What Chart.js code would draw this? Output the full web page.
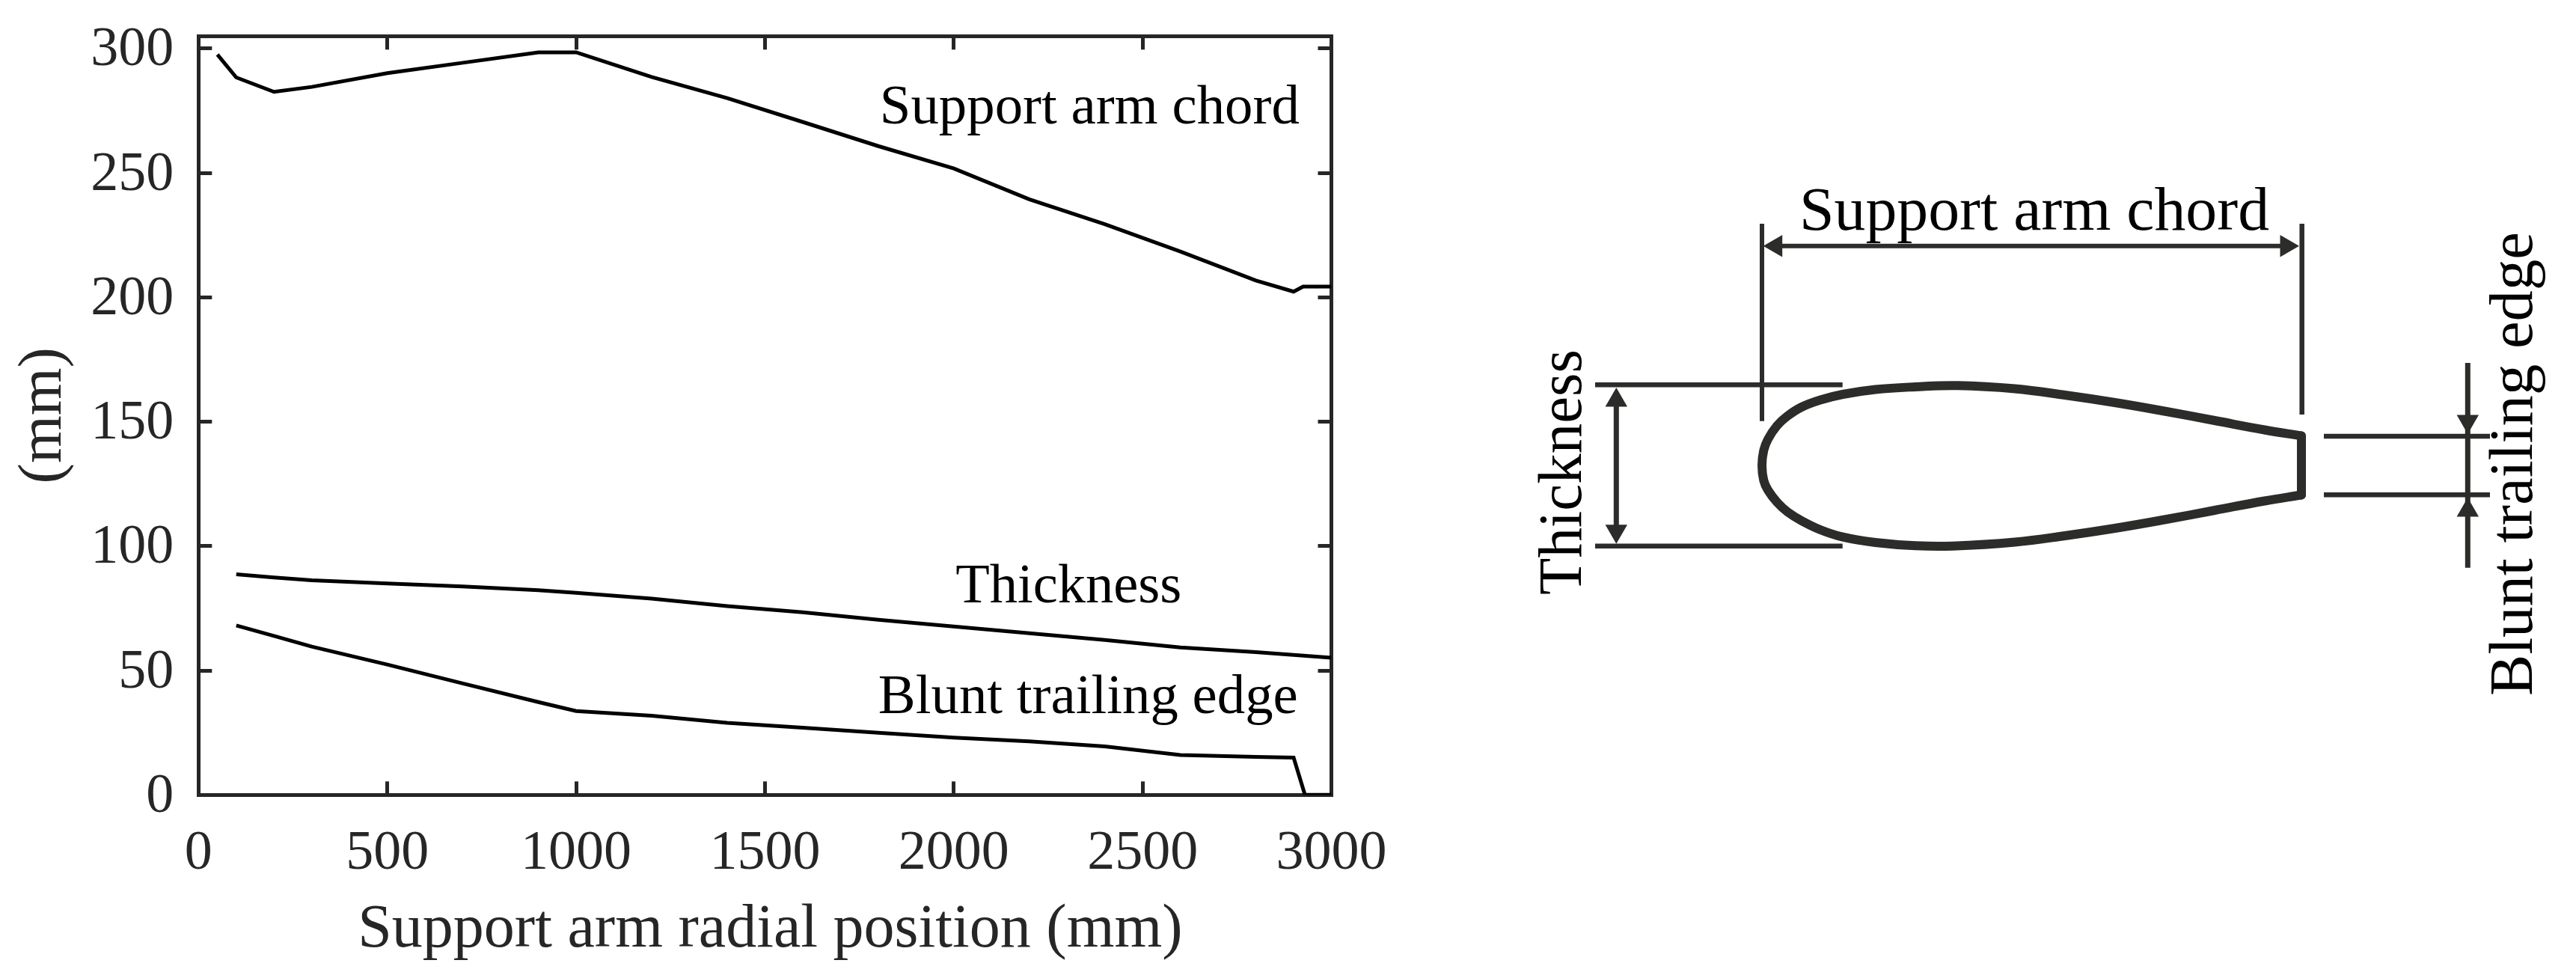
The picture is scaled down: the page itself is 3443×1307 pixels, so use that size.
<!DOCTYPE html>
<html>
<head>
<meta charset="utf-8">
<title>Support arm geometry</title>
<script src="https://cdn.jsdelivr.net/npm/chart.js@4/dist/chart.umd.js"></script>
<style>
html,body{margin:0;padding:0;background:#fff;overflow:hidden}
#wrap{position:relative;width:3443px;height:1307px;background:#fff}
canvas{position:absolute;top:0;display:block}
#left{left:0}
#right{left:1900px}
</style>
</head>
<body>
<div id="wrap">
<canvas id="left" width="1900" height="1307"></canvas>
<canvas id="right" width="1543" height="1307"></canvas>
</div>
<script>
// ---- left plot data (mm) ----
const xTicksStep = 500;
const yTicksStep = 50;
const xLabel = 'Support arm radial position (mm)';
const yLabel = '(mm)';

const chordX = [50,100,200,300,500,700,900,1000,1200,1400,1600,1800,2000,2200,2400,2600,2800,2900,2925,3000];
const chordY = [297.6,288.4,282.6,284.6,290.1,294.3,298.5,298.5,288.6,280.1,270.5,260.8,251.8,239.4,229.4,218.4,206.8,202.3,204.3,204.3];

const thickX = [100,200,300,500,700,900,1000,1200,1400,1600,1800,2000,2200,2400,2600,2800,3000];
const thickY = [88.7,87.4,86.3,85,83.8,82.3,81.2,78.9,75.9,73.4,70.4,67.7,65,62.3,59.3,57.4,55.1];

const bluntX = [100,200,300,500,700,900,1000,1200,1400,1600,1800,2000,2200,2400,2600,2800,2900,2930,3000];
const bluntY = [68.1,63.9,59.6,52.4,44.8,37.3,33.7,31.8,29,27,25,23,21.5,19.5,16,15.3,15,0,0];

const plotNotes = ['Support arm chord','Thickness','Blunt trailing edge'];
const plotNoteX = [1804,2005,1800];
const plotNoteY = [270,77.4,32.9];
const plotNoteW = [561,302,561];

// ---- right diagram data (units from the leading edge, chord = 721) ----
const foilX = [721,671.7,605,538,471.7,405,338,261.7,205,151.7,108,78,53,34,20,8,2.3,0,2.3,8,20,34,53,78,108,151.7,205,255,338,405,471.7,538,605,671.7,721];
const foilY = [39.5,47.5,60,72.5,84,94,102.5,106.7,105,101.5,95,87.5,78,66,53,35,20,0,-20,-33,-49,-62,-74,-86,-95.7,-103,-107.3,-107.7,-102.5,-94,-84,-72.5,-60,-47.5,-39.5];
const foilEndX = [721,721];
const foilEndY = [39.5,-39.5];

const chordExtLeftX = [0,0];       const chordExtLeftY = [323,59.3];
const chordExtRightX = [721.7,721.7]; const chordExtRightY = [323,68];
const chordDimX = [20,700];        const chordDimY = [293.3,293.3];
const thickTopX = [-223,107.7];    const thickTopY = [107.7,107.7];
const thickBotX = [-223,107.7];    const thickBotY = [-107.7,-107.7];
const thickDimX = [-194.7,-194.7]; const thickDimY = [90,-90];
const edgeTopX = [751,973];        const edgeTopY = [39,39];
const edgeBotX = [751,973];        const edgeBotY = [-39.3,-39.3];
const edgeDimX = [943.3,943.3];    const edgeDimY = [137,-136.7];

const headX = [18.7,701,-194.7,-194.7,943.3,943.3];
const headY = [293.3,293.3,87,-87.7,59,-60];
const headAngle = [270,90,0,180,180,0];

const diagramNotes = ['Support arm chord','Thickness','Blunt trailing edge'];
const diagramNoteX = [50,-242,1029];
const diagramNoteY = [314.7,-173,-308];
const diagramNoteAngle = [0,-90,-90];
const diagramNoteW = [628,328,620];

const INK = '#262626';
const FOIL = '#2c2c2a';

function pts(xs,ys){ return xs.map((x,i)=>({x:x,y:ys[i]})); }

function notesPlugin(texts,xs,ys,widths,angles,font,color){
  return {
    id:'notes',
    afterDatasetsDraw(chart){
      const c = chart.ctx;
      const sx = chart.scales.x, sy = chart.scales.y;
      texts.forEach((t,i)=>{
        c.save();
        c.font = font;
        c.fillStyle = color;
        c.textAlign = 'left';
        c.textBaseline = 'alphabetic';
        c.translate(sx.getPixelForValue(xs[i]), sy.getPixelForValue(ys[i]));
        if(angles) c.rotate(angles[i]*Math.PI/180);
        c.scale(widths[i]/c.measureText(t).width,1);
        c.fillText(t,0,0);
        c.restore();
      });
    }
  };
}

// ---- left plot ----
const AXIS_FONT = 'Liberation Serif';
const gridStyle = {drawOnChartArea:false, drawTicks:true, tickLength:-18, tickWidth:5, tickColor:INK};
const borderStyle = {display:true, width:5, color:INK};
function fixBox(s,w,h){
  if(w!==null) s.width=w;
  if(h!==null) s.height=h;
  s.paddingLeft=0;s.paddingRight=0;s.paddingTop=0;s.paddingBottom=0;
}
// nudges one drawing step of an axis by a few pixels
function nudge(s,method,dx,dy){
  if(s['_n_'+method]) return;
  s['_n_'+method]=true;
  const orig=s[method];
  s[method]=function(...a){
    const c=this.ctx;c.save();c.translate(dx,dy);orig.apply(this,a);c.restore();
  };
}
function lineSet(label,xs,ys){
  return {label:label,data:pts(xs,ys),showLine:true,borderColor:'#000',backgroundColor:'#000',
          borderWidth:5,pointRadius:0,tension:0,borderJoinStyle:'miter',borderCapStyle:'butt'};
}
new Chart(document.getElementById('left'),{
  type:'scatter',
  data:{datasets:[
    lineSet('Support arm chord',chordX,chordY),
    lineSet('Thickness',thickX,thickY),
    lineSet('Blunt trailing edge',bluntX,bluntY)
  ]},
  options:{
    responsive:false,animation:false,devicePixelRatio:1,
    layout:{padding:0,autoPadding:false},
    plugins:{legend:{display:false},tooltip:{enabled:false},title:{display:false}},
    scales:{
      x:{type:'linear',position:'bottom',min:0,max:3000,
        afterFit(s){fixBox(s,null,244.7);nudge(s,'drawTitle',7,0);},
        grid:gridStyle,border:borderStyle,
        ticks:{stepSize:xTicksStep,includeBounds:false,autoSkip:false,maxRotation:0,minRotation:0,
               padding:53,color:INK,font:{family:AXIS_FONT,size:74},callback:v=>String(v)},
        title:{display:true,text:xLabel,color:INK,font:{family:AXIS_FONT,size:82},padding:{top:0,bottom:14}}
      },
      y:{type:'linear',position:'left',min:0,max:305,
        afterFit(s){fixBox(s,265.3,null);nudge(s,'drawLabels',0,3);},
        grid:gridStyle,border:borderStyle,
        ticks:{stepSize:yTicksStep,includeBounds:false,autoSkip:false,maxRotation:0,minRotation:0,
               padding:51,color:INK,font:{family:AXIS_FONT,size:74},callback:v=>String(v)},
        title:{display:true,text:yLabel,color:INK,font:{family:AXIS_FONT,size:82},padding:{top:10,bottom:0}}
      },
      x2:{type:'linear',position:'top',min:0,max:3000,
        afterFit(s){fixBox(s,null,48.3);},
        grid:gridStyle,border:borderStyle,
        ticks:{stepSize:xTicksStep,includeBounds:false,display:false}
      },
      y2:{type:'linear',position:'right',min:0,max:305,
        afterFit(s){fixBox(s,120.5,null);},
        grid:gridStyle,border:borderStyle,
        ticks:{stepSize:yTicksStep,includeBounds:false,display:false}
      }
    }
  },
  plugins:[notesPlugin(plotNotes,plotNoteX,plotNoteY,plotNoteW,null,'75px "Liberation Serif"','#000')]
});

// ---- right diagram ----
function dimSet(xs,ys,w){
  return {data:pts(xs,ys),showLine:true,borderColor:FOIL,borderWidth:w,pointRadius:0,tension:0,borderCapStyle:'butt'};
}
function foilSet(xs,ys,t){
  return {data:pts(xs,ys),showLine:true,borderColor:FOIL,borderWidth:12,pointRadius:0,tension:t,
          borderCapStyle:'round',borderJoinStyle:'round'};
}
new Chart(document.getElementById('right'),{
  type:'scatter',
  data:{datasets:[
    foilSet(foilX,foilY,0.4),
    foilSet(foilEndX,foilEndY,0),
    dimSet(chordExtLeftX,chordExtLeftY,6),
    dimSet(chordExtRightX,chordExtRightY,6.5),
    dimSet(chordDimX,chordDimY,6),
    dimSet(thickTopX,thickTopY,6.5),
    dimSet(thickBotX,thickBotY,6.5),
    dimSet(thickDimX,thickDimY,7),
    dimSet(edgeTopX,edgeTopY,6.5),
    dimSet(edgeBotX,edgeBotY,6.5),
    dimSet(edgeDimX,edgeDimY,7),
    {data:pts(headX,headY),showLine:false,pointStyle:'triangle',pointRadius:17,pointBorderWidth:0,
     pointBackgroundColor:FOIL,pointBorderColor:FOIL,pointRotation:headAngle}
  ]},
  options:{
    responsive:false,animation:false,devicePixelRatio:1,
    layout:{padding:0,autoPadding:false},
    plugins:{legend:{display:false},tooltip:{enabled:false},title:{display:false}},
    scales:{
      x:{type:'linear',display:false,min:-455,max:1088},
      y:{type:'linear',display:false,min:-685,max:622}
    }
  },
  plugins:[notesPlugin(diagramNotes,diagramNoteX,diagramNoteY,diagramNoteW,diagramNoteAngle,'82px "Liberation Serif"','#000')]
});
</script>
</body>
</html>
